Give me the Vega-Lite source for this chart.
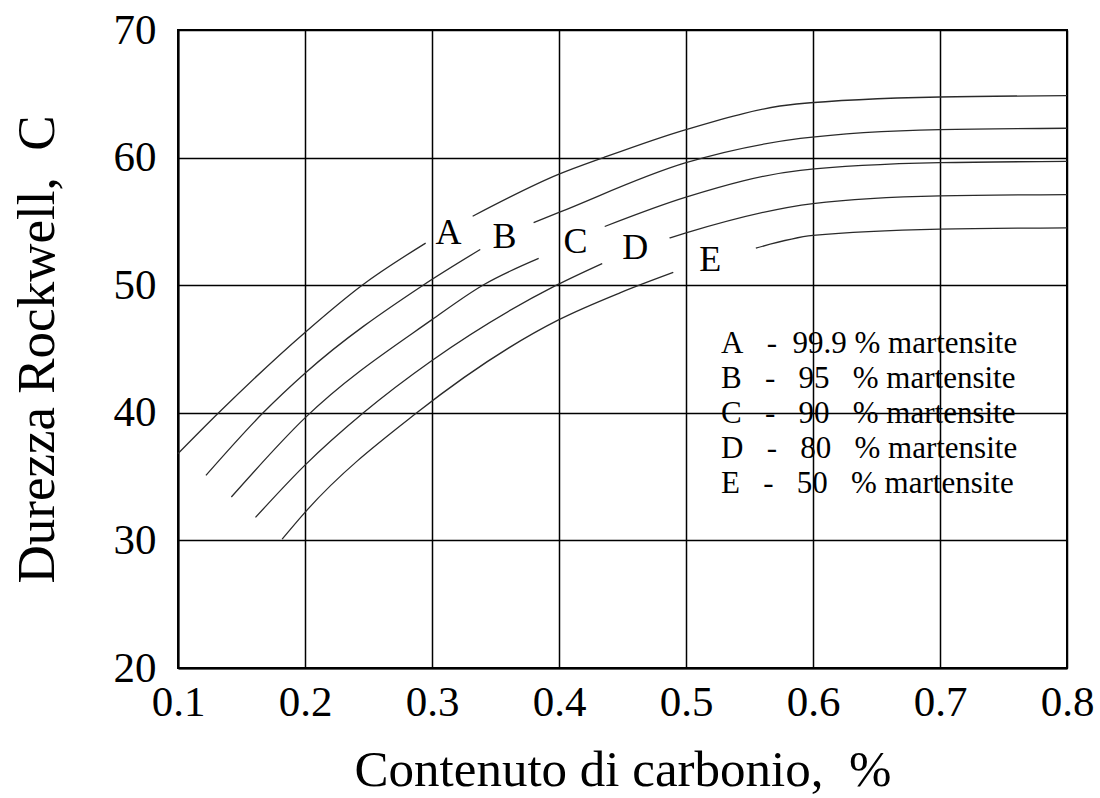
{
  "$schema": "https://vega.github.io/schema/vega-lite/v6.json",
  "width": 889,
  "height": 638,
  "autosize": "none",
  "padding": {"left": 178, "top": 30, "right": 33, "bottom": 130},
  "background": "white",
  "config": {
    "view": {"stroke": "black", "strokeWidth": 2},
    "font": "Liberation Serif, Times New Roman, serif"
  },
  "datasets": {
    "curve": [
      {"curva": "A", "tratto": 1, "x": 0.100, "y": 36.8},
      {"curva": "A", "tratto": 1, "x": 0.132, "y": 40.0},
      {"curva": "A", "tratto": 1, "x": 0.200, "y": 46.3},
      {"curva": "A", "tratto": 1, "x": 0.245, "y": 50.0},
      {"curva": "A", "tratto": 1, "x": 0.295, "y": 53.3},
      {"curva": "A", "tratto": 2, "x": 0.332, "y": 55.4},
      {"curva": "A", "tratto": 2, "x": 0.400, "y": 58.7},
      {"curva": "A", "tratto": 2, "x": 0.435, "y": 60.0},
      {"curva": "A", "tratto": 2, "x": 0.500, "y": 62.2},
      {"curva": "A", "tratto": 2, "x": 0.587, "y": 64.2},
      {"curva": "A", "tratto": 2, "x": 0.700, "y": 64.75},
      {"curva": "A", "tratto": 2, "x": 0.800, "y": 64.85},
      {"curva": "B", "tratto": 1, "x": 0.122, "y": 35.1},
      {"curva": "B", "tratto": 1, "x": 0.167, "y": 40.0},
      {"curva": "B", "tratto": 1, "x": 0.200, "y": 43.1},
      {"curva": "B", "tratto": 1, "x": 0.293, "y": 50.0},
      {"curva": "B", "tratto": 1, "x": 0.338, "y": 52.8},
      {"curva": "B", "tratto": 2, "x": 0.380, "y": 54.9},
      {"curva": "B", "tratto": 2, "x": 0.400, "y": 55.7},
      {"curva": "B", "tratto": 2, "x": 0.500, "y": 59.6},
      {"curva": "B", "tratto": 2, "x": 0.590, "y": 61.5},
      {"curva": "B", "tratto": 2, "x": 0.700, "y": 62.2},
      {"curva": "B", "tratto": 2, "x": 0.800, "y": 62.3},
      {"curva": "C", "tratto": 1, "x": 0.142, "y": 33.4},
      {"curva": "C", "tratto": 1, "x": 0.200, "y": 39.6},
      {"curva": "C", "tratto": 1, "x": 0.300, "y": 47.3},
      {"curva": "C", "tratto": 1, "x": 0.340, "y": 50.0},
      {"curva": "C", "tratto": 1, "x": 0.384, "y": 52.1},
      {"curva": "C", "tratto": 2, "x": 0.436, "y": 54.6},
      {"curva": "C", "tratto": 2, "x": 0.500, "y": 56.9},
      {"curva": "C", "tratto": 2, "x": 0.590, "y": 59.0},
      {"curva": "C", "tratto": 2, "x": 0.700, "y": 59.6},
      {"curva": "C", "tratto": 2, "x": 0.800, "y": 59.7},
      {"curva": "D", "tratto": 1, "x": 0.161, "y": 31.8},
      {"curva": "D", "tratto": 1, "x": 0.200, "y": 35.9},
      {"curva": "D", "tratto": 1, "x": 0.246, "y": 40.0},
      {"curva": "D", "tratto": 1, "x": 0.300, "y": 44.1},
      {"curva": "D", "tratto": 1, "x": 0.398, "y": 50.0},
      {"curva": "D", "tratto": 1, "x": 0.434, "y": 51.7},
      {"curva": "D", "tratto": 2, "x": 0.487, "y": 53.7},
      {"curva": "D", "tratto": 2, "x": 0.500, "y": 54.1},
      {"curva": "D", "tratto": 2, "x": 0.600, "y": 56.4},
      {"curva": "D", "tratto": 2, "x": 0.700, "y": 57.0},
      {"curva": "D", "tratto": 2, "x": 0.800, "y": 57.1},
      {"curva": "E", "tratto": 1, "x": 0.182, "y": 30.1},
      {"curva": "E", "tratto": 1, "x": 0.200, "y": 32.2},
      {"curva": "E", "tratto": 1, "x": 0.288, "y": 40.0},
      {"curva": "E", "tratto": 1, "x": 0.400, "y": 47.3},
      {"curva": "E", "tratto": 1, "x": 0.448, "y": 49.4},
      {"curva": "E", "tratto": 1, "x": 0.490, "y": 51.0},
      {"curva": "E", "tratto": 2, "x": 0.555, "y": 52.9},
      {"curva": "E", "tratto": 2, "x": 0.600, "y": 53.9},
      {"curva": "E", "tratto": 2, "x": 0.700, "y": 54.4},
      {"curva": "E", "tratto": 2, "x": 0.800, "y": 54.5}
    ],
    "legenda": [
      {"curva": "A", "descrizione": "A\u00a0\u00a0\u00a0-\u00a0\u00a099.9\u00a0% martensite"},
      {"curva": "B", "descrizione": "B\u00a0\u00a0\u00a0-\u00a0\u00a0\u00a095\u00a0\u00a0\u00a0% martensite"},
      {"curva": "C", "descrizione": "C\u00a0\u00a0\u00a0-\u00a0\u00a0\u00a090\u00a0\u00a0\u00a0% martensite"},
      {"curva": "D", "descrizione": "D\u00a0\u00a0\u00a0-\u00a0\u00a0\u00a080\u00a0\u00a0\u00a0% martensite"},
      {"curva": "E", "descrizione": "E\u00a0\u00a0\u00a0-\u00a0\u00a0\u00a050\u00a0\u00a0\u00a0% martensite"}
    ],
    "etichette": [
      {"lettera": "A", "x": 0.313, "y": 54.1},
      {"lettera": "B", "x": 0.357, "y": 53.8},
      {"lettera": "C", "x": 0.413, "y": 53.4},
      {"lettera": "D", "x": 0.460, "y": 52.9},
      {"lettera": "E", "x": 0.519, "y": 52.0}
    ]
  },
  "layer": [
    {
      "data": {"name": "curve"},
      "transform": [
        {"lookup": "curva", "from": {"data": {"name": "legenda"}, "key": "curva", "fields": ["descrizione"]}}
      ],
      "mark": {"type": "line", "interpolate": "monotone", "strokeWidth": 1.3},
      "encoding": {
        "x": {
          "field": "x", "type": "quantitative",
          "scale": {"domain": [0.1, 0.8], "nice": false, "zero": false},
          "axis": {
            "values": [0.1, 0.2, 0.3, 0.4, 0.5, 0.6, 0.7, 0.8],
            "format": ".1f",
            "grid": true, "gridColor": "black", "gridWidth": 1.5, "gridOpacity": 1,
            "ticks": false,
            "domainColor": "black", "domainWidth": 2,
            "labelFont": "Liberation Serif, Times New Roman, serif", "labelFontSize": 43, "labelColor": "black",
            "labelPadding": 13, "labelFlush": false, "labelOverlap": false,
            "title": "Contenuto di carbonio,\u00a0\u00a0%",
            "titleFont": "Liberation Serif, Times New Roman, serif", "titleFontSize": 51, "titleFontWeight": "normal",
            "titleColor": "black", "titlePadding": 21
          }
        },
        "y": {
          "field": "y", "type": "quantitative",
          "scale": {"domain": [20, 70], "nice": false, "zero": false},
          "axis": {
            "values": [20, 30, 40, 50, 60, 70],
            "grid": true, "gridColor": "black", "gridWidth": 1.5, "gridOpacity": 1,
            "ticks": false,
            "domainColor": "black", "domainWidth": 2,
            "labelFont": "Liberation Serif, Times New Roman, serif", "labelFontSize": 43, "labelColor": "black",
            "labelPadding": 22, "labelFlush": false, "labelOverlap": false,
            "title": "Durezza Rockwell,\u00a0\u00a0C",
            "titleFont": "Liberation Serif, Times New Roman, serif", "titleFontSize": 53, "titleFontWeight": "normal",
            "titleColor": "black", "titlePadding": 49
          }
        },
        "detail": {"field": "tratto", "type": "nominal"},
        "order": {"field": "x", "type": "quantitative"},
        "stroke": {
          "field": "descrizione", "type": "nominal",
          "scale": {"range": ["#2a2a2a", "#2a2a2a", "#2a2a2a", "#2a2a2a", "#2a2a2a"]},
          "legend": {
            "orient": "none", "legendX": 512, "legendY": 298,
            "title": null,
            "labelFont": "Liberation Serif, Times New Roman, serif", "labelFontSize": 31, "labelColor": "black",
            "labelLimit": 500, "labelOffset": 0,
            "symbolSize": 0, "symbolStrokeWidth": 0, "symbolOpacity": 0,
            "rowPadding": 3, "padding": 0
          }
        }
      }
    },
    {
      "data": {"name": "etichette"},
      "mark": {"type": "text", "font": "Liberation Serif, Times New Roman, serif", "fontSize": 36, "color": "black", "align": "center", "baseline": "middle"},
      "encoding": {
        "x": {"field": "x", "type": "quantitative"},
        "y": {"field": "y", "type": "quantitative"},
        "text": {"field": "lettera", "type": "nominal"}
      }
    }
  ]
}
